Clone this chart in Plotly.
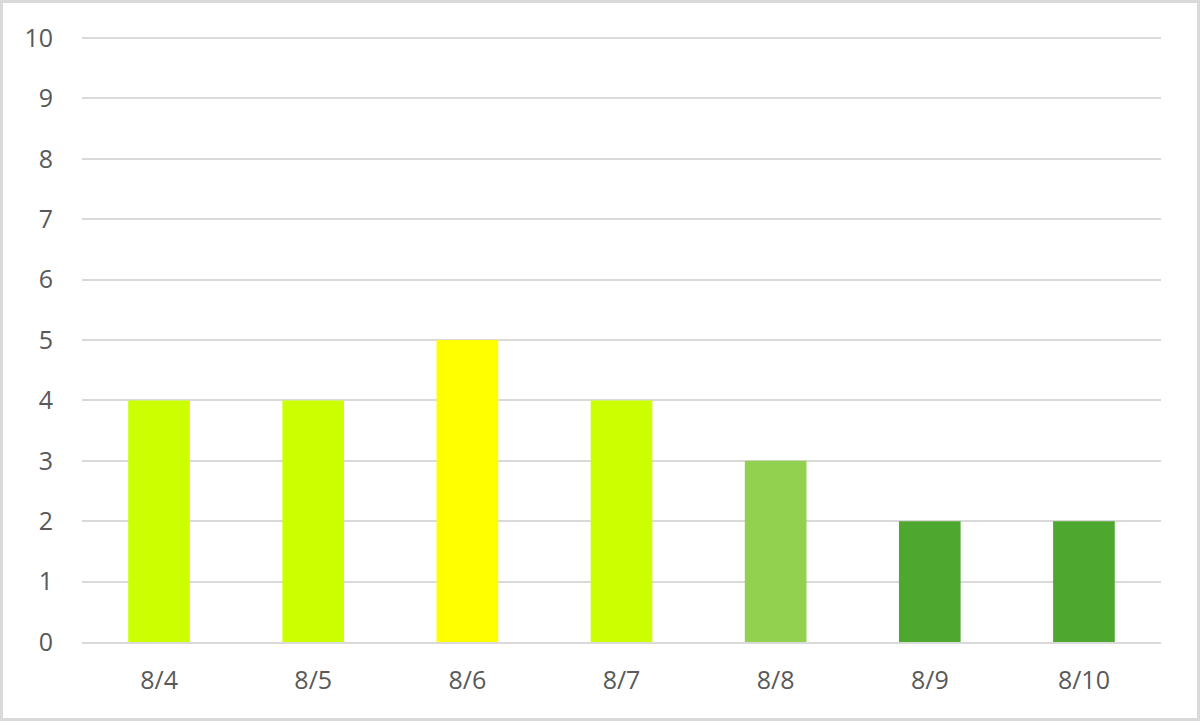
import plotly.graph_objects as go

categories = ["8/4", "8/5", "8/6", "8/7", "8/8", "8/9", "8/10"]
values = [4, 4, 5, 4, 3, 2, 2]
bar_colors = ["#CCFF00", "#CCFF00", "#FFFF00", "#CCFF00", "#92D050", "#4EA72E", "#4EA72E"]
y_ticks = list(range(0, 11))

W, H = 1200, 721
ml, mr, mt, mb = 82, 39, 35, 79
pw, ph = W - ml - mr, H - mt - mb

fig = go.Figure(go.Bar(x=categories, y=values, marker=dict(color=bar_colors, line=dict(width=0)), width=0.4))

fig.update_layout(
    width=W, height=H,
    margin=dict(l=ml, r=mr, t=mt, b=mb, autoexpand=False),
    paper_bgcolor="white", plot_bgcolor="white",
    showlegend=False,
    font=dict(family="Open Sans, Noto Sans, sans-serif", size=25, color="#595959"),
)
fig.update_yaxes(
    range=[0, 10.05], tickvals=y_ticks, showgrid=True, gridcolor="#D9D9D9", gridwidth=2,
    zeroline=False, showline=False, ticks="", ticklabelstandoff=28,
)
fig.update_xaxes(
    showline=True, linecolor="#D9D9D9", linewidth=2, ticks="", ticklabelstandoff=15,
    showgrid=False,
)
fig.add_shape(
    type="rect", xref="paper", yref="paper",
    x0=(-ml + 1.5) / pw, x1=1 + (mr - 1.5) / pw,
    y0=(-mb + 1.5) / ph, y1=1 + (mt - 1.5) / ph,
    line=dict(color="#D9D9D9", width=3), fillcolor="rgba(0,0,0,0)", layer="above",
)
fig.write_html("out.html", config={"displayModeBar": False})

with open("out.html", "r", encoding="utf-8") as f:
    html = f.read()
html = html.replace("<head>", "<head><style>html,body{margin:0;padding:0;overflow:hidden;}</style>", 1)
with open("out.html", "w", encoding="utf-8") as f:
    f.write(html)
